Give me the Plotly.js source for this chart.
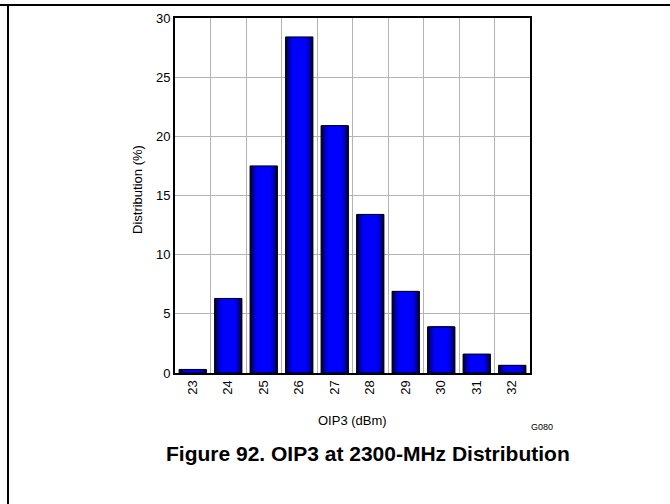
<!DOCTYPE html>
<html>
<head>
<meta charset="utf-8">
<script src="https://cdn.plot.ly/plotly-3.0.1.min.js"></script>
<style>
html,body{margin:0;padding:0;background:#fff;}
#chart{width:670px;height:504px;}
</style>
</head>
<body>
<div id="chart"></div>
<script>
// Data
const categories = ["23", "24", "25", "26", "27", "28", "29", "30", "31", "32"];
const distribution = [0.3, 6.3, 17.5, 28.4, 20.9, 13.4, 6.9, 3.9, 1.6, 0.65];
const yTickVals = [0, 5, 10, 15, 20, 25, 30];

const xTitle = "OIP3 (dBm)";
const yTitle = "Distribution (%)";
const caption = "Figure 92. OIP3 at 2300-MHz Distribution";
const figId = "G080";

// Layers to imitate the horizontal shading of the bars (dark edges, bright centre)
const shadeLayers = [
  {w: 0.77, c: "#000018"},
  {w: 0.73, c: "#000048"},
  {w: 0.68, c: "#000078"},
  {w: 0.62, c: "#0000a4"},
  {w: 0.55, c: "#0000c8"},
  {w: 0.47, c: "#0000e6"},
  {w: 0.38, c: "#0000ff"}
];

const traces = shadeLayers.map(l => ({
  type: "bar",
  x: categories,
  y: distribution,
  width: l.w,
  marker: {color: l.c, line: {width: 0}},
  hoverinfo: "skip",
  showlegend: false
}));
// outline on top
traces.push({
  type: "bar",
  x: categories,
  y: distribution,
  width: 0.77,
  marker: {color: "rgba(0,0,0,0)", line: {color: "#000", width: 1}},
  hoverinfo: "skip",
  showlegend: false
});

const font = "Liberation Sans, Arial, sans-serif";
const plotW = 355, plotH = 355, L = 175, B = 131, T = 18;
const px = x => (x - L) / plotW;
const py = y => (504 - B - y) / plotH;

const layout = {
  width: 670, height: 504,
  margin: {l: L, r: 140, t: T, b: B, pad: 0},
  paper_bgcolor: "#fff", plot_bgcolor: "#fff",
  barmode: "overlay",
  font: {family: font, size: 13, color: "#000"},
  xaxis: {
    type: "category",
    tickson: "boundaries",
    showgrid: true, gridcolor: "#b4b4b4", gridwidth: 1,
    showline: true, linecolor: "#000", linewidth: 2, mirror: true,
    ticks: "", tickangle: -90,
    tickfont: {family: font, size: 13, color: "#000"},
    fixedrange: true, zeroline: false
  },
  yaxis: {
    range: [0, 30],
    tickvals: yTickVals,
    showgrid: true, gridcolor: "#b4b4b4", gridwidth: 1,
    showline: true, linecolor: "#000", linewidth: 2, mirror: true,
    ticks: "", ticklen: 0,
    tickfont: {family: font, size: 13, color: "#000"},
    zeroline: false, fixedrange: true
  },
  annotations: [
    {text: yTitle, xref: "paper", yref: "paper", x: px(137), y: py(190), xanchor: "center", yanchor: "middle", textangle: -90, showarrow: false, font: {family: font, size: 13}},
    {text: xTitle, xref: "paper", yref: "paper", x: px(352), y: py(420), xanchor: "center", yanchor: "middle", showarrow: false, font: {family: font, size: 13}},
    {text: figId, xref: "paper", yref: "paper", x: px(542), y: py(427), xanchor: "center", yanchor: "middle", showarrow: false, font: {family: font, size: 9}},
    {text: "<b>" + caption + "</b>", xref: "paper", yref: "paper", x: px(368), y: py(454), xanchor: "center", yanchor: "middle", showarrow: false, font: {family: font, size: 21}}
  ],
  shapes: [
    {type: "line", xref: "paper", yref: "paper", x0: px(0), x1: px(670), y0: py(5), y1: py(5), line: {color: "#000", width: 2}},
    {type: "line", xref: "paper", yref: "paper", x0: px(8), x1: px(8), y0: py(5), y1: py(504), line: {color: "#000", width: 2}}
  ]
};

Plotly.newPlot("chart", traces, layout, {displayModeBar: false, staticPlot: true});
</script>
</body>
</html>
